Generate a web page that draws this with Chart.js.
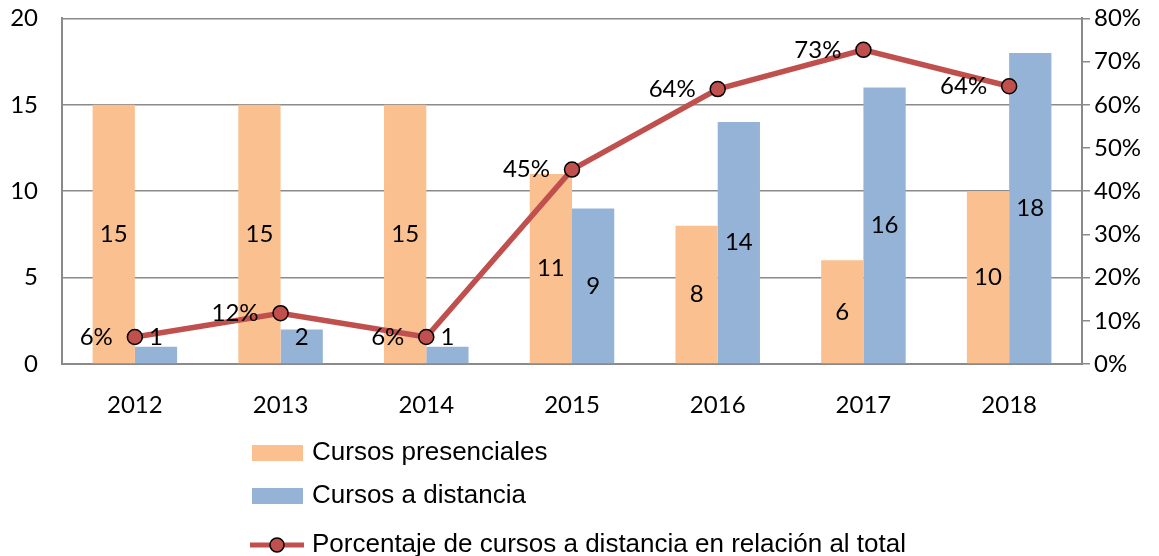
<!DOCTYPE html>
<html>
<head>
<meta charset="utf-8">
<script src="https://cdn.jsdelivr.net/npm/chart.js@4.4.1/dist/chart.umd.min.js"></script>
<style>
html,body{margin:0;padding:0;background:#fff;}
#wrap{width:1159px;height:556px;position:relative;}
</style>
</head>
<body>
<div id="wrap"><canvas id="c" width="1159" height="556"></canvas></div>
<script>
const categories = ['2012','2013','2014','2015','2016','2017','2018'];
const presenciales = [15, 15, 15, 11, 8, 6, 10];
const distancia = [1, 2, 1, 9, 14, 16, 18];
const porcentaje = [0.0625, 0.1176, 0.0625, 0.45, 0.6364, 0.7273, 0.6429];
const seriesNames = ['Cursos presenciales', 'Cursos a distancia', 'Porcentaje de cursos a distancia en relación al total'];
const leftTicks = [0, 5, 10, 15, 20];
const rightTicks = [0, 0.1, 0.2, 0.3, 0.4, 0.5, 0.6, 0.7, 0.8];

const ORANGE = '#FAC090', BLUE = '#95B3D7', RED = '#C0504D', GRID = '#8a8a8a';
const TICKFONT = {family: 'Lato', size: 24};

const labelsPlugin = {
  id: 'labels',
  afterDatasetsDraw(chart) {
    const ctx = chart.ctx;
    ctx.save();
    ctx.font = '24px Lato';
    ctx.fillStyle = '#000';
    ctx.textBaseline = 'middle';
    [0,1].forEach(di => {
      const meta = chart.getDatasetMeta(di);
      meta.data.forEach((el, i) => {
        const v = chart.data.datasets[di].data[i];
        let y = (el.y + el.base) / 2;
        y = Math.min(y, el.base - 26);
        ctx.textAlign = 'center';
        ctx.fillText(String(v), el.x, y);
      });
    });
    const lm = chart.getDatasetMeta(2);
    lm.data.forEach((el, i) => {
      const v = chart.data.datasets[2].data[i];
      ctx.textAlign = 'right';
      ctx.fillText(Math.round(v * 100) + '%', el.x - 22, el.y);
    });
    ctx.restore();
  },
  afterDraw(chart) {
    const ctx = chart.ctx;
    ctx.save();
    ctx.font = '26px "Liberation Sans"';
    ctx.fillStyle = '#000';
    ctx.textBaseline = 'middle';
    ctx.textAlign = 'left';
    const items = [
      {y: 453, type: 'box', color: ORANGE},
      {y: 496, type: 'box', color: BLUE},
      {y: 545, type: 'line', color: RED}
    ];
    items.forEach((it, i) => {
      if (it.type === 'box') {
        ctx.fillStyle = it.color;
        ctx.fillRect(252, it.y - 8, 51, 16);
      } else {
        ctx.strokeStyle = it.color;
        ctx.lineWidth = 5;
        ctx.beginPath();
        ctx.moveTo(250, it.y); ctx.lineTo(304, it.y); ctx.stroke();
        ctx.fillStyle = it.color;
        ctx.strokeStyle = '#000';
        ctx.lineWidth = 1.5;
        ctx.beginPath();
        ctx.arc(277, it.y, 7, 0, Math.PI * 2);
        ctx.fill(); ctx.stroke();
      }
      ctx.fillStyle = '#000';
      ctx.fillText(seriesNames[i], 312, it.y);
    });
    ctx.restore();
  }
};

new Chart(document.getElementById('c'), {
  data: {
    labels: categories,
    datasets: [
      {type: 'bar', label: seriesNames[0], data: presenciales, backgroundColor: ORANGE, yAxisID: 'y', order: 2,
       barPercentage: 1, categoryPercentage: 0.58},
      {type: 'bar', label: seriesNames[1], data: distancia, backgroundColor: BLUE, yAxisID: 'y', order: 2,
       barPercentage: 1, categoryPercentage: 0.58},
      {type: 'line', label: seriesNames[2], data: porcentaje, yAxisID: 'y1', order: 1,
       borderColor: RED, borderWidth: 5.5, backgroundColor: RED, pointBackgroundColor: RED,
       pointBorderColor: '#000', pointBorderWidth: 1.5, pointRadius: 7.5, tension: 0}
    ]
  },
  options: {
    responsive: false,
    animation: false,
    events: [],
    layout: {padding: {top: 0, bottom: 0, left: 0, right: 0}},
    plugins: {legend: {display: false}, tooltip: {enabled: false}},
    scales: {
      x: {
        grid: {display: false},
        border: {display: true, color: GRID, width: 2},
        ticks: {font: TICKFONT, color: '#000', padding: 19},
        afterFit(s) { s.height = 192; }
      },
      y: {
        position: 'left', min: 0, max: 20,
        afterBuildTicks(s) { s.ticks = leftTicks.map(v => ({value: v})); },
        grid: {color: GRID, lineWidth: 1.5, drawTicks: true, tickLength: 24, tickColor: 'rgba(0,0,0,0)'},
        border: {display: true, color: GRID, width: 2},
        ticks: {font: TICKFONT, color: '#000', padding: 0},
        afterFit(s) { s.width = 62; }
      },
      y1: {
        position: 'right', min: 0, max: 0.8,
        afterBuildTicks(s) { s.ticks = rightTicks.map(v => ({value: v})); },
        grid: {drawOnChartArea: false, drawTicks: true, tickLength: 8, color: GRID, lineWidth: 1.5},
        border: {display: true, color: GRID, width: 2},
        ticks: {font: TICKFONT, color: '#000', padding: 4, callback: v => Math.round(v * 100) + '%'},
        afterFit(s) { s.width = 77; }
      }
    }
  },
  plugins: [labelsPlugin]
});
</script>
</body>
</html>
